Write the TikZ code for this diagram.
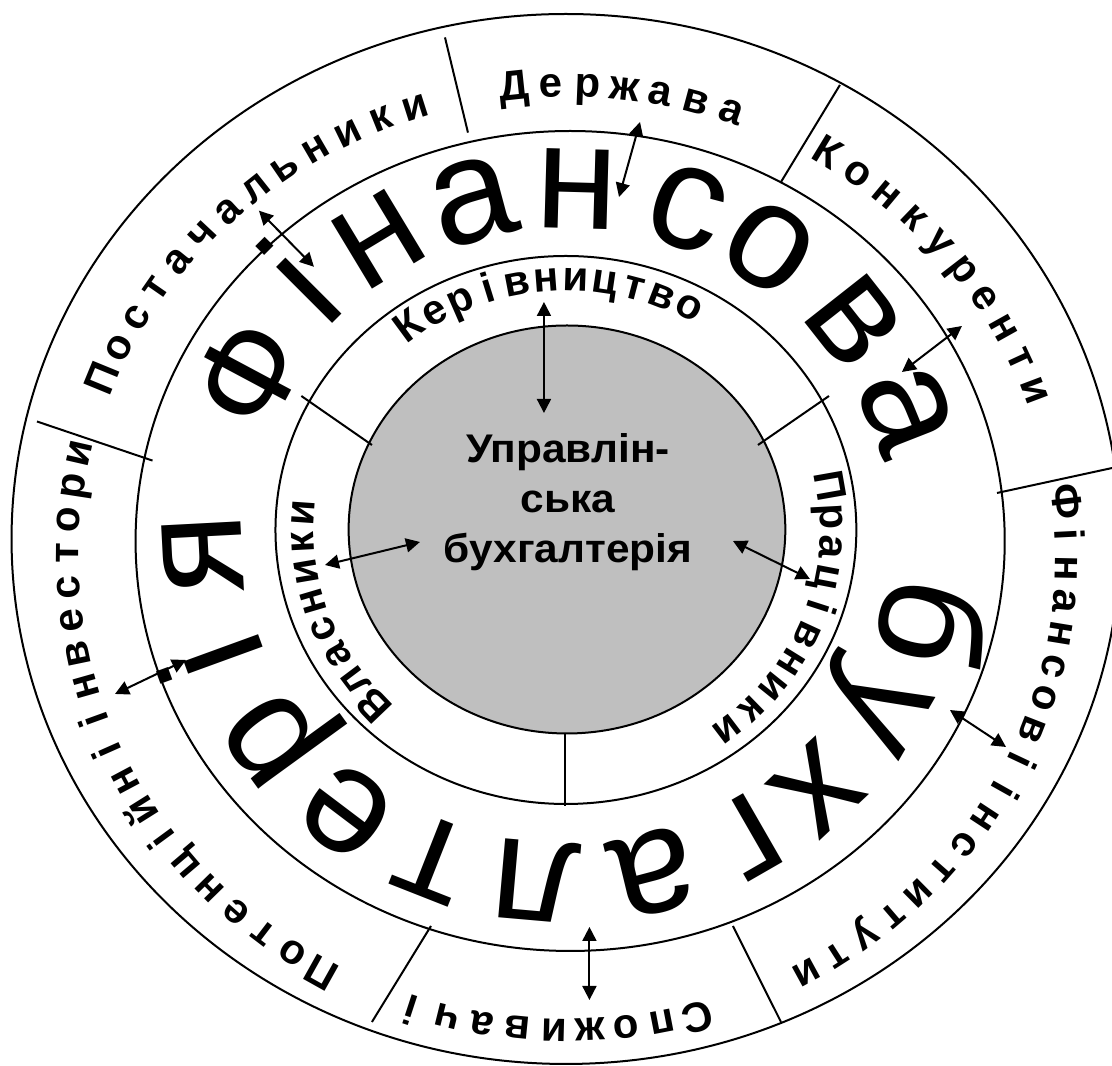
\documentclass[tikz,border=0pt]{standalone}
\usepackage{fontspec}
\setmainfont{Liberation Sans}
\usetikzlibrary{arrows.meta}

\begin{document}
\begin{tikzpicture}[x=0.53pt, y=0.5pt,
    ring/.style={draw, line width=1pt},
    sep/.style={line width=1pt},
    lbl/.style={font=\fontsize{21}{21}\selectfont\bfseries, inner sep=0pt, anchor=base},
    big/.style={font=\fontsize{75}{75}\selectfont, inner sep=0pt, anchor=base},
    arr/.style={{Triangle[length=7pt,width=7pt]}-{Triangle[length=7pt,width=7pt]}, line width=1pt}
  ]
  \clip (-534.9,-530) rectangle (514.2,536);

  % rings
  \draw[ring] (-1,-3) ellipse[x radius=523, y radius=525];
  \draw[ring] (3,-5) circle[radius=410];
  \draw[ring] (-1,6) circle[radius=274];
  \draw[ring, fill=black!25] (0,6.5) ellipse[x radius=206, y radius=204];

  % dividers
  \draw[sep] (-115.1,498.6) -- (-93.4,403.4);
  \draw[sep] (257.5,451) -- (201.9,354);
  \draw[sep] (405.7,43) -- (530,71.6);
  \draw[sep] (156.6,-390) -- (201.9,-486);
  \draw[sep] (-128.3,-390) -- (-184,-486);
  \draw[sep] (-500,114.5) -- (-391,75.4);
  \draw[sep] (-250.6,140) -- (-184,91);
  \draw[sep] (180.2,91) -- (247.2,140);
  \draw[sep] (-1.9,-197) -- (-1.9,-270);

  % centre
  \node[font=\fontsize{20}{25}\selectfont\bfseries, align=center, inner sep=0pt, xscale=1.06] (core) at (1,34)
    {Управлін-\\ська\\бухгалтерія};

  % big ring text
  \node[big, font=\fontsize{66}{66}\selectfont, rotate=61.9] (fb1) at (151.9:298) {Ф};
  \foreach \c/\a [count=\i from 2] in {і/135, н/121.1, а/105, н/88.4, с/70.9, о/56.4, в/38.2, а/21.4,
      б/-14.2, у/-30, х/-46.8, г/-60.1, а/-76.4, л/-95, т/-111.5, е/-127.1, р/-144, і/-160, я/-177}
    \node[big, rotate=\a-90] (fb\i) at (\a:307) {\c};

  % outer ring
  \begin{scope}[shift={(0,-22)}]
    \foreach \c [count=\i from 0] in {П,о,с,т,а,ч,а,л,ь,н,и,к,и}
      {\pgfmathsetmacro\a{157.7-4.17*\i}
       \node[lbl, rotate=\a-90] (post\i) at (\a:461) {\c};}
    \foreach \c [count=\i from 0] in {Д,е,р,ж,а,в,а}
      {\pgfmathsetmacro\a{96.1-4.22*\i}
       \node[lbl, rotate=\a-90] (derzh\i) at (\a:461) {\c};}
    \foreach \c [count=\i from 0] in {К,о,н,к,у,р,е,н,т,и}
      {\pgfmathsetmacro\a{58.7-4.22*\i}
       \node[lbl, rotate=\a-90] (konk\i) at (\a:461) {\c};}
    \foreach \c [count=\i from 0] in {Ф,і,н,а,н,с,о,в,і,і,н,с,т,и,т,у,т,и}
      {\pgfmathsetmacro\a{6.8-4.01*\i}
       \node[lbl, rotate=\a-90] (fin\i) at (\a:461) {\c};}
    \foreach \c [count=\i from 0] in {С,п,о,ж,и,в,а,ч,і}
      {\pgfmathsetmacro\a{-74.9-4.15*\i}
       \node[lbl, rotate=\a-90] (spoz\i) at (\a:461) {\c};}
    \foreach \c [count=\i from 0] in {П,о,т,е,н,ц,і,й,н,і,і,н,в,е,с,т,о,р,и}
      {\pgfmathsetmacro\a{240.8-4.09*\i}
       \node[lbl, rotate=\a-90] (inv\i) at (\a:461) {\c};}
  \end{scope}

  % inner ring
  \begin{scope}[shift={(0,6)}]
    \foreach \c [count=\i from 0] in {К,е,р,і,в,н,и,ц,т,в,о}
      {\pgfmathsetmacro\a{126.3-6.37*\i}
       \node[lbl, rotate=\a-90] (ker\i) at (\a:239) {\c};}
    \foreach \c [count=\i from 0] in {В,л,а,с,н,и,к,и}
      {\pgfmathsetmacro\a{223.7-6.8*\i}
       \node[lbl, rotate=\a-90] (vlas\i) at (\a:239) {\c};}
    \foreach \c [count=\i from 0] in {П,р,а,ц,і,в,н,и,к,и}
      {\pgfmathsetmacro\a{10-6.97*\i}
       \node[lbl, rotate=\a-90] (prac\i) at (\a:239) {\c};}
  \end{scope}

  % arrows
  \coordinate (postA) at (-290.6,325.3);  \coordinate (postB) at (-238.7,269.2);
  \coordinate (derzhA) at (68.9,414);     \coordinate (derzhB) at (49.1,339);
  \coordinate (konkA) at (372.6,210);     \coordinate (konkB) at (316,164);
  \coordinate (kerA) at (-21.7,234);      \coordinate (kerB) at (-21.7,123);
  \coordinate (vlasA) at (-228.3,-29);    \coordinate (vlasB) at (-138.7,-6);
  \coordinate (pracA) at (156.6,-5);      \coordinate (pracB) at (229.2,-43);
  \coordinate (invA) at (-426.4,-158);    \coordinate (invB) at (-359.4,-124);
  \coordinate (finA) at (361.3,-174);     \coordinate (finB) at (414.2,-211);
  \coordinate (spozA) at (21.2,-391);     \coordinate (spozB) at (21.2,-464);
  \draw[arr] (postA) -- (postB);
  \draw[arr] (derzhA) -- (derzhB);
  \draw[arr] (konkA) -- (konkB);
  \draw[arr] (kerA) -- (kerB);
  \draw[arr] (vlasA) -- (vlasB);
  \draw[arr] (pracA) -- (pracB);
  \draw[arr] (invA) -- (invB);
  \draw[arr] (finA) -- (finB);
  \draw[arr] (spozA) -- (spozB);
\end{tikzpicture}
\end{document}
